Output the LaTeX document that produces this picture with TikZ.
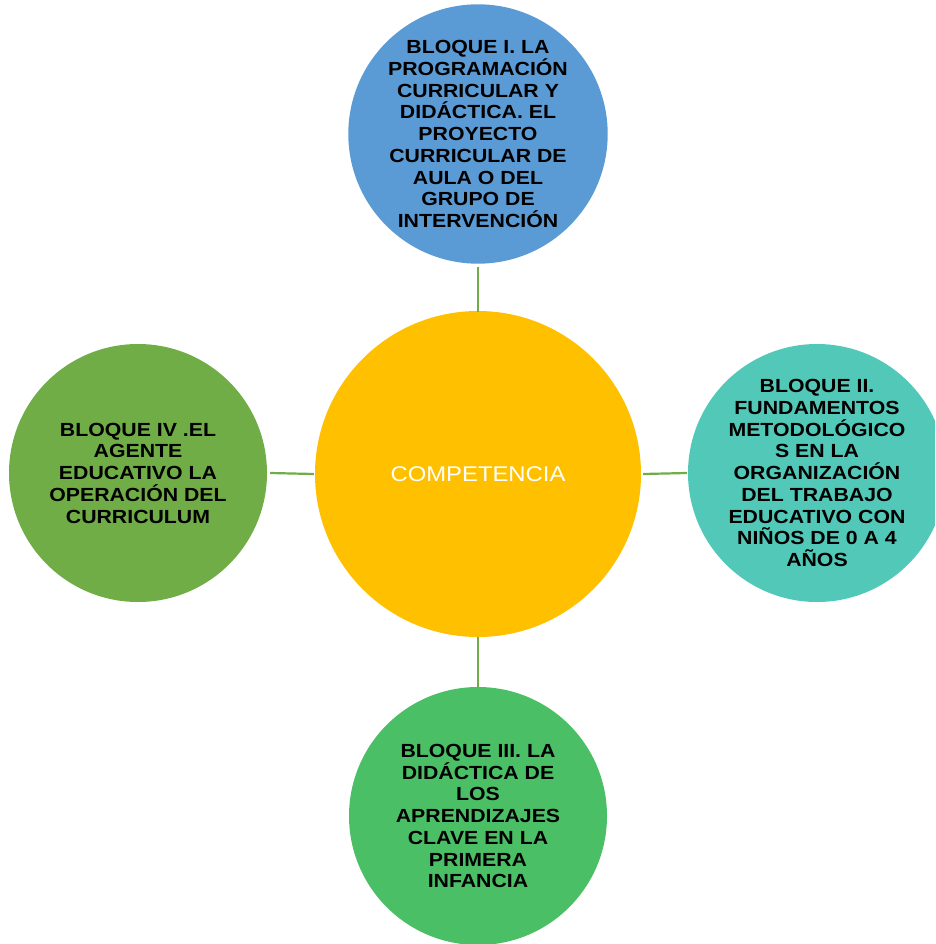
\documentclass[tikz,border=0pt]{standalone}
\usepackage{fontspec}
\setmainfont{Liberation Sans}
\newfontfamily\wfont[FakeStretch=1.12]{Liberation Sans}
\definecolor{cblue}{HTML}{5B9BD5}
\definecolor{cyellow}{HTML}{FFC000}
\definecolor{cteal}{HTML}{52C9B8}
\definecolor{cgreenL}{HTML}{70AD47}
\definecolor{cgreenB}{HTML}{4BBF65}
\definecolor{cline}{HTML}{70AD47}
\begin{document}
\begin{tikzpicture}[x=1pt,y=-1pt,
  bubble/.style={circle,inner sep=0pt,minimum size=258pt,align=center,
    font=\wfont\fontsize{19}{21.75}\selectfont\bfseries,text=black},
  link/.style={draw=cline,line width=2.2pt}]
\useasboundingbox (0,0) rectangle (935,944);
\clip (0,0) rectangle (935,944);
\node[circle,inner sep=0pt,minimum size=326pt,fill=cyellow,text=white,
  font=\wfont\fontsize{21.3}{25}\selectfont] (c) at (478,474) {COMPETENCIA};
\node[bubble,fill=cblue] (t) at (478,134) {BLOQUE I. LA\\PROGRAMACIÓN\\CURRICULAR Y\\DIDÁCTICA. EL\\PROYECTO\\CURRICULAR DE\\AULA O DEL\\GRUPO DE\\INTERVENCIÓN};
\node[bubble,fill=cteal] (r) at (817,473) {BLOQUE II.\\FUNDAMENTOS\\METODOLÓGICO\\S EN LA\\ORGANIZACIÓN\\DEL TRABAJO\\EDUCATIVO CON\\NIÑOS DE 0 A 4\\AÑOS};
\node[bubble,fill=cgreenB] (b) at (478,816) {BLOQUE III. LA\\DIDÁCTICA DE\\LOS\\APRENDIZAJES\\CLAVE EN LA\\PRIMERA\\INFANCIA};
\node[bubble,fill=cgreenL] (l) at (138,473) {BLOQUE IV .EL\\AGENTE\\EDUCATIVO LA\\OPERACIÓN DEL\\CURRICULUM};
\draw[link] (t.south) ++(0,3) -- ([yshift=-1pt]c.north);
\draw[link] (c.south) -- ([yshift=-1pt]b.north);
\draw[link] (l.east) ++(3,0) -- ([xshift=-1pt]c.west);
\draw[link] (c.east) ++(2,0) -- ([xshift=-1pt]r.west);
\end{tikzpicture}
\end{document}
